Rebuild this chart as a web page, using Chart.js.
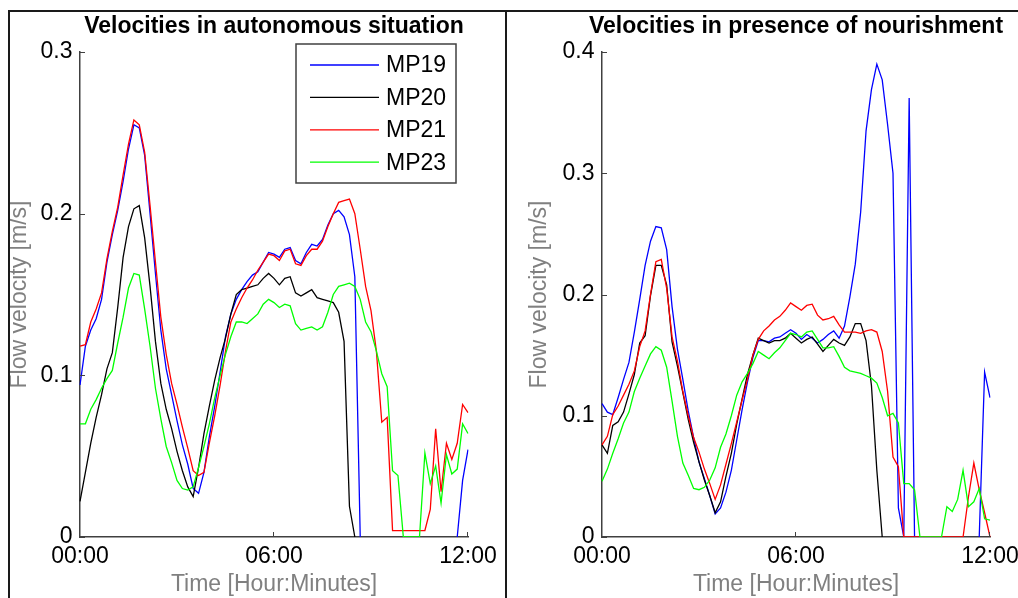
<!DOCTYPE html>
<html>
<head>
<meta charset="utf-8">
<script src="https://cdn.jsdelivr.net/npm/chart.js@4.4.0/dist/chart.umd.min.js"></script>
<style>
  body { margin: 0; background: #fff; overflow: hidden; width: 1018px; height: 598px; position: relative; }
  #leftChart { position: absolute; left: 0; top: 0; }
  #rightChart { position: absolute; left: 506px; top: 0; }
  .rule { position: absolute; background: #1a1a1a; }
</style>
</head>
<body>
<canvas id="leftChart" width="506" height="598"></canvas>
<canvas id="rightChart" width="540" height="598"></canvas>
<div class="rule" style="left:8px;top:10px;width:2px;height:588px"></div>
<div class="rule" style="left:8px;top:10px;width:1010px;height:2px"></div>
<div class="rule" style="left:505px;top:10px;width:2px;height:588px"></div>
<script>
// time axis, one sample every 10 minutes from 00:00 to 12:00
const times = [];
for (let m = 0; m <= 720; m += 10) {
    times.push(String(Math.floor(m / 60)).padStart(2, '0') + ':' + String(m % 60).padStart(2, '0'));
}
const shownTimes = ['00:00', '06:00', '12:00'];

const seriesNames = ['MP19', 'MP20', 'MP21', 'MP23'];
const seriesColors = ['#0000ff', '#000000', '#ff0000', '#00ff00'];

const autoTicks = [0, 0.1, 0.2, 0.3];
const nourTicks = [0, 0.1, 0.2, 0.3, 0.4];

// --- autonomous situation [m/s] ---
const autoMP19 = [0.094, 0.118, 0.128, 0.135, 0.147, 0.170, 0.187, 0.202, 0.220, 0.240,
    0.255, 0.253, 0.236, 0.200, 0.163, 0.128, 0.104, 0.088, 0.072, 0.057,
    0.045, 0.030, 0.027, 0.040, 0.062, 0.081, 0.102, 0.124, 0.138, 0.147,
    0.153, 0.158, 0.162, 0.164, 0.170, 0.176, 0.175, 0.173, 0.178, 0.179,
    0.171, 0.169, 0.176, 0.181, 0.180, 0.184, 0.193, 0.200, 0.202, 0.198,
    0.187, 0.161, 0,
    null, null, null, null, null, null, null, null, null, null, null, null, null, null, null, null, null,
    0, 0.035, 0.054];
const autoMP20 = [0.022, 0.040, 0.058, 0.074, 0.088, 0.104, 0.114, 0.142, 0.173, 0.192,
    0.203, 0.205, 0.185, 0.155, 0.121, 0.095, 0.079, 0.067, 0.053, 0.041,
    0.031, 0.025, 0.043, 0.064, 0.081, 0.097, 0.111, 0.123, 0.138, 0.150,
    0.153, 0.154, 0.155, 0.156, 0.160, 0.163, 0.160, 0.156, 0.160, 0.161,
    0.151, 0.149, 0.151, 0.153, 0.148, 0.147, 0.146, 0.145, 0.139, 0.121,
    0.019, 0,
    null, null, null, null, null, null, null, null, null, null, null,
    null, null, null, null, null, null, null, null, null, null];
const autoMP21 = [0.118, 0.119, 0.133, 0.141, 0.151, 0.172, 0.189, 0.204, 0.224, 0.243,
    0.258, 0.255, 0.238, 0.205, 0.170, 0.136, 0.113, 0.095, 0.082, 0.068,
    0.055, 0.041, 0.038, 0.040, 0.058, 0.075, 0.094, 0.115, 0.133, 0.141,
    0.148, 0.154, 0.159, 0.165, 0.170, 0.175, 0.174, 0.171, 0.177, 0.178,
    0.169, 0.168, 0.174, 0.178, 0.178, 0.183, 0.192, 0.200, 0.207, 0.208,
    0.209, 0.200, 0.178, 0.155, 0.140, 0.115, 0.071, 0.074, 0.004, 0.004,
    0.004, 0.004, 0.004, 0.004, 0.004, 0.017, 0.067, 0.028, 0.058, 0.048,
    0.058, 0.082, 0.077];
const autoMP23 = [0.070, 0.070, 0.079, 0.085, 0.092, 0.098, 0.103, 0.120, 0.136, 0.154,
    0.163, 0.162, 0.141, 0.118, 0.092, 0.073, 0.056, 0.046, 0.035, 0.030,
    0.029, 0.031, 0.043, 0.056, 0.070, 0.086, 0.100, 0.113, 0.124, 0.133,
    0.133, 0.132, 0.135, 0.138, 0.144, 0.147, 0.145, 0.142, 0.144, 0.143,
    0.132, 0.128, 0.129, 0.130, 0.128, 0.130, 0.139, 0.150, 0.155, 0.156,
    0.157, 0.155, 0.147, 0.133, 0.127, 0.115, 0.101, 0.093, 0.041, 0.038,
    0, 0, 0, 0, 0.052, 0.033, 0.044, 0.021, 0.051, 0.039,
    0.042, 0.070, 0.064];

// --- presence of nourishment [m/s] ---
const nourMP19 = [0.110, 0.103, 0.101, 0.115, 0.130, 0.144, 0.169, 0.196, 0.224, 0.244,
    0.256, 0.255, 0.237, 0.190, 0.155, 0.130, 0.104, 0.082, 0.062, 0.048,
    0.034, 0.019, 0.024, 0.037, 0.055, 0.080, 0.105, 0.128, 0.148, 0.162,
    0.162, 0.161, 0.164, 0.165, 0.168, 0.171, 0.168, 0.163, 0.167, 0.164,
    0.160, 0.163, 0.167, 0.170, 0.164, 0.174, 0.198, 0.225, 0.268, 0.335,
    0.369, 0.390, 0.377, 0.340, 0.300, 0.024, 0, 0.362, 0,
    null, null, null, null, null, null, null, null, null, null, null,
    0, 0.136, 0.115];
const nourMP20 = [0.076, 0.069, 0.092, 0.095, 0.103, 0.118, 0.134, 0.160, 0.166, 0.199,
    0.224, 0.224, 0.208, 0.161, 0.141, 0.119, 0.097, 0.078, 0.062, 0.047,
    0.034, 0.020, 0.029, 0.050, 0.069, 0.093, 0.114, 0.134, 0.150, 0.164,
    0.162, 0.160, 0.162, 0.162, 0.164, 0.168, 0.164, 0.160, 0.163, 0.165,
    0.159, 0.153, 0.158, 0.163, 0.160, 0.158, 0.165, 0.176, 0.176, 0.162,
    0.125, 0.055, 0,
    null, null, null, null, null, null, null, null, null, null,
    null, null, null, null, null, null, null, null, null, null];
const nourMP21 = [0.076, 0.083, 0.101, 0.108, 0.117, 0.126, 0.137, 0.157, 0.170, 0.200,
    0.227, 0.229, 0.205, 0.165, 0.145, 0.120, 0.100, 0.082, 0.070, 0.056,
    0.044, 0.031, 0.043, 0.060, 0.077, 0.095, 0.113, 0.130, 0.150, 0.163,
    0.170, 0.174, 0.179, 0.182, 0.187, 0.193, 0.190, 0.187, 0.191, 0.192,
    0.183, 0.179, 0.180, 0.182, 0.175, 0.169, 0.169, 0.169, 0.168, 0.170,
    0.171, 0.169, 0.153, 0.120, 0.066, 0.058, 0,
    0, 0, 0, 0, 0, 0, 0, 0, 0, 0, 0,
    0.033, 0.061, 0.039, 0.020, 0];
const nourMP23 = [0.046, 0.056, 0.069, 0.081, 0.094, 0.103, 0.120, 0.131, 0.141, 0.151,
    0.157, 0.154, 0.140, 0.112, 0.083, 0.061, 0.051, 0.040, 0.039, 0.041,
    0.047, 0.057, 0.074, 0.085, 0.100, 0.117, 0.128, 0.135, 0.143, 0.153,
    0.150, 0.147, 0.152, 0.156, 0.162, 0.168, 0.167, 0.165, 0.169, 0.170,
    0.163, 0.156, 0.156, 0.157, 0.149, 0.140, 0.137, 0.136, 0.135, 0.133,
    0.131, 0.127, 0.115, 0.100, 0.102, 0.094, 0.044, 0.044, 0.039, 0,
    0, 0, 0, 0, 0.025, 0.021, 0.031, 0.055, 0.025, 0.029,
    0.040, 0.015, 0.014];

const FONT = "'Liberation Sans', Arial, sans-serif";
Chart.defaults.font.family = FONT;
Chart.defaults.color = '#000';

const AXIS_COLOR = '#404040';
const LABEL_GRAY = '#808080';

// MATLAB-style inward tick marks
const innerTicks = {
    id: 'innerTicks',
    afterDraw(chart) {
        const ctx = chart.ctx;
        const area = chart.chartArea;
        const xs = chart.scales.x, ys = chart.scales.y;
        ctx.save();
        ctx.strokeStyle = AXIS_COLOR;
        ctx.lineWidth = 1;
        ctx.beginPath();
        ys.ticks.forEach(t => {
            const y = Math.round(ys.getPixelForValue(t.value)) + 0.5;
            ctx.moveTo(area.left, y);
            ctx.lineTo(area.left + 5, y);
        });
        shownTimes.forEach(label => {
            const x = Math.round(xs.getPixelForValue(times.indexOf(label))) - 0.5;
            ctx.moveTo(x, area.bottom);
            ctx.lineTo(x, area.bottom - 5);
        });
        ctx.stroke();
        ctx.restore();
    }
};

// panel title centred over the plot area (the built-in one squeezes long text)
const panelTitle = {
    id: 'panelTitle',
    afterDraw(chart, args, opts) {
        const ctx = chart.ctx;
        const area = chart.chartArea;
        ctx.save();
        ctx.font = 'bold 23px ' + FONT;
        ctx.fillStyle = '#000';
        ctx.textAlign = 'center';
        ctx.textBaseline = 'middle';
        ctx.fillText(opts.text, (area.left + area.right) / 2, 27);
        ctx.restore();
    }
};

// boxed legend in the upper right of the first panel
const boxLegend = {
    id: 'boxLegend',
    afterDraw(chart) {
        const ctx = chart.ctx;
        ctx.save();
        ctx.fillStyle = '#fff';
        ctx.fillRect(296, 44, 160, 139);
        ctx.strokeStyle = AXIS_COLOR;
        ctx.lineWidth = 1.5;
        ctx.strokeRect(296, 44, 160, 139);
        ctx.font = '23px ' + FONT;
        ctx.textBaseline = 'middle';
        chart.data.datasets.forEach((ds, i) => {
            const y = 65 + i * 32.4;
            ctx.strokeStyle = ds.borderColor;
            ctx.lineWidth = 1.3;
            ctx.beginPath();
            ctx.moveTo(310, y);
            ctx.lineTo(379, y);
            ctx.stroke();
            ctx.fillStyle = '#000';
            ctx.fillText(ds.label, 386, y + 1);
        });
        ctx.restore();
    }
};

function makeChart(canvasId, titleText, series, yTicks, layout, extraPlugins) {
    const datasets = series.map((values, i) => ({
        label: seriesNames[i],
        data: values,
        borderColor: seriesColors[i],
        borderWidth: 1.3,
        pointRadius: 0,
        tension: 0,
        spanGaps: false,
        order: series.length - i
    }));

    return new Chart(document.getElementById(canvasId).getContext('2d'), {
        type: 'line',
        data: { labels: times, datasets: datasets },
        options: {
            responsive: false,
            animation: false,
            events: [],
            layout: { padding: { left: 0, right: layout.right, top: 52, bottom: 0 } },
            plugins: {
                legend: { display: false },
                tooltip: { enabled: false },
                title: { display: false },
                panelTitle: { text: titleText }
            },
            scales: {
                x: {
                    type: 'category',
                    grid: { drawOnChartArea: false, drawTicks: false },
                    border: { color: AXIS_COLOR, width: 1.5 },
                    ticks: {
                        autoSkip: false,
                        maxRotation: 0,
                        minRotation: 0,
                        padding: 6,
                        color: '#000',
                        font: { size: 23 },
                        callback: function(value) {
                            const t = this.getLabelForValue(value);
                            return shownTimes.includes(t) ? t : null;
                        }
                    },
                    title: {
                        display: true,
                        text: 'Time [Hour:Minutes]',
                        color: LABEL_GRAY,
                        font: { size: 23 },
                        padding: { top: 0, bottom: 0 }
                    },
                    afterFit: scale => { scale.height = 61; }
                },
                y: {
                    min: yTicks[0],
                    max: yTicks[yTicks.length - 1],
                    grid: { drawOnChartArea: false, drawTicks: false },
                    border: { color: AXIS_COLOR, width: 1.5 },
                    afterBuildTicks: scale => { scale.ticks = yTicks.map(v => ({ value: v })); },
                    ticks: {
                        padding: 7.5,
                        color: '#000',
                        font: { size: 23 },
                        callback: v => String(+v.toFixed(1))
                    },
                    title: {
                        display: true,
                        text: 'Flow velocity [m/s]',
                        color: LABEL_GRAY,
                        font: { size: 23 },
                        padding: { top: layout.yTitle, bottom: 0 }
                    },
                    afterFit: scale => { scale.width = layout.yWidth; }
                }
            }
        },
        plugins: [innerTicks, panelTitle].concat(extraPlugins)
    });
}

makeChart('leftChart', 'Velocities in autonomous situation',
    [autoMP19, autoMP20, autoMP21, autoMP23], autoTicks,
    { right: 38, yWidth: 80, yTitle: 5.4 }, [boxLegend]);

makeChart('rightChart', 'Velocities in presence of nourishment',
    [nourMP19, nourMP20, nourMP21, nourMP23], nourTicks,
    { right: 56, yWidth: 96, yTitle: 20.2 }, []);
</script>
</body>
</html>
